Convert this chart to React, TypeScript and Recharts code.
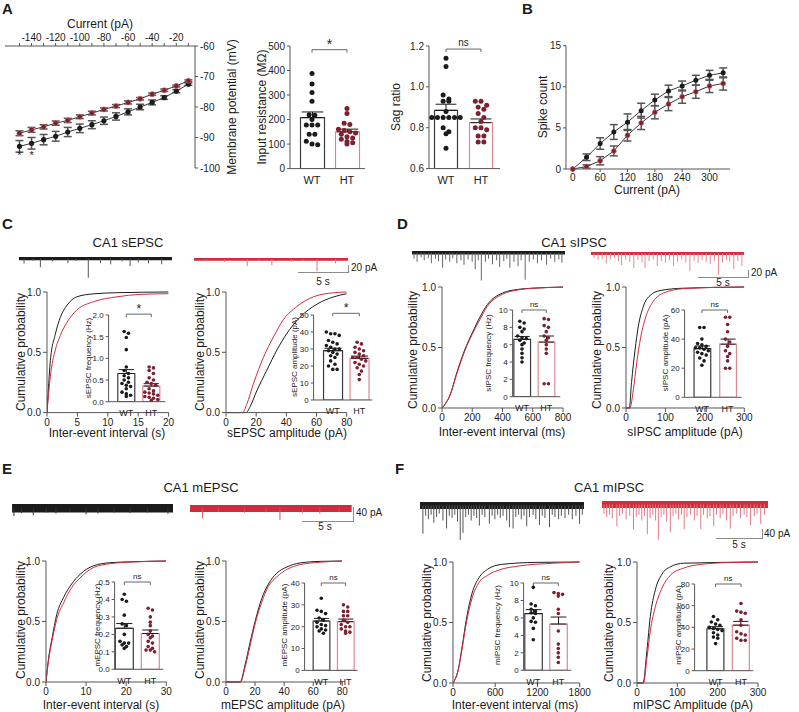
import React from 'react';
import {
  ComposedChart, Line, Bar, Scatter, XAxis, YAxis, ErrorBar, Cell,
  ReferenceLine, ReferenceDot, ReferenceArea,
} from 'recharts';

const FONT = '"Liberation Sans", Arial, Helvetica, sans-serif';
const INK = '#1b1b1b';
const AXIS = '#555';
const RED = '#d22b3c';
const MAROON = '#7d2030';
const HT_EDGE = '#dc8790';

type Pair = [number, number];

// ---------- A: current-voltage
const ivCurrent = [-150, -140, -130, -120, -110, -100, -90, -80, -70, -60, -50, -40, -30, -20, -10];
const ivWT = [-92.9, -91.9, -90.7, -89.6, -88.2, -87.0, -85.8, -84.5, -83.1, -81.6, -80.0, -78.5, -76.9, -74.8, -72.5];
const ivWTsem = [1.9, 1.9, 1.7, 1.6, 1.5, 1.4, 1.3, 1.2, 1.2, 1.0, 0.9, 0.8, 0.6, 0.5, 0.4];
const ivHT = [-88.6, -87.5, -86.5, -85.3, -84.4, -83.2, -82.0, -80.8, -79.7, -78.5, -77.3, -75.8, -74.5, -73.1, -71.4];
const ivHTsem = [0.8, 0.8, 0.7, 0.7, 0.7, 0.6, 0.6, 0.5, 0.5, 0.5, 0.4, 0.4, 0.4, 0.3, 0.3];
const ivStarCurrents = [-150, -140];
const ivYTicks = [-100, -90, -80, -70, -60];

// ---------- A: input resistance / sag ratio
const rinWT = [388, 345, 310, 275, 220, 218, 200, 178, 178, 178, 140, 140, 112, 100, 97];
const rinHT = [245, 225, 185, 180, 160, 155, 150, 145, 140, 130, 125, 120, 110, 105, 100];
const rinMean = [208, 150];
const rinSem = [23, 11];
const sagWT = [1.14, 1.10, 0.96, 0.94, 0.93, 0.93, 0.88, 0.85, 0.85, 0.85, 0.85, 0.85, 0.85, 0.80, 0.78, 0.77, 0.70];
const sagHT = [0.93, 0.93, 0.91, 0.90, 0.89, 0.87, 0.85, 0.83, 0.80, 0.80, 0.79, 0.76, 0.76, 0.73, 0.73];
const sagMean = [0.885, 0.825];
const sagSem = [0.03, 0.018];

// ---------- B: spike count
const bCurrent = [0, 30, 60, 90, 120, 150, 180, 210, 240, 270, 300, 330];
const bWT = [0, 1.43, 3.1, 4.5, 5.7, 7.1, 8.4, 9.5, 10.1, 10.8, 11.4, 11.7];
const bWTsem = [0, 0.4, 0.7, 0.9, 1.0, 0.9, 0.7, 0.7, 0.6, 0.6, 0.6, 0.6];
const bHT = [0, 0.3, 1.0, 2.2, 4.1, 5.6, 6.9, 7.9, 8.8, 9.4, 10.1, 10.4];
const bHTsem = [0, 0.2, 0.5, 0.6, 0.7, 0.8, 0.8, 0.8, 0.8, 0.8, 0.8, 0.8];

// ---------- C: sEPSC
const sEpscTraceWT: Pair[] = [[0.5, 15], [1.4, 6], [2.1, 26], [3.3, 8], [4.8, 14], [5.6, 7], [6.8, 58], [8.0, 14], [9.0, 17], [10.1, 8], [10.9, 22], [11.7, 12], [12.7, 15], [14.0, 17]];
const sEpscTraceHT: Pair[] = [[1.2, 6], [3.0, 8], [5.2, 20], [6.3, 5], [7.6, 17], [9.5, 7], [10.6, 5], [12.0, 36], [13.8, 12]];
const sEpscIeiWT: Pair[] = [[0, 0], [0.2, 0.17], [0.55, 0.43], [1.37, 0.65], [2.2, 0.79], [3.3, 0.89], [4.9, 0.96], [7.7, 0.985], [11.5, 0.994], [20, 1]];
const sEpscIeiHT: Pair[] = [[0, 0], [0.2, 0.12], [0.55, 0.3], [1.37, 0.52], [2.2, 0.64], [3.3, 0.75], [4.9, 0.85], [7.7, 0.92], [11.5, 0.96], [15.3, 0.98], [20, 0.986]];
const sEpscAmpWT: Pair[] = [[0, 0], [13.3, 0], [16, 0.05], [20.4, 0.18], [27, 0.35], [33.8, 0.52], [40, 0.65], [49, 0.79], [60.4, 0.9], [71.5, 0.96], [80, 0.986]];
const sEpscAmpHT: Pair[] = [[0, 0], [11, 0], [13.8, 0.07], [18.2, 0.24], [24.9, 0.46], [31.6, 0.63], [38, 0.77], [47, 0.88], [58, 0.96], [71.5, 0.994], [80, 1]];
const sEpscFreqWT = [1.62, 1.58, 1.48, 1.2, 0.8, 0.72, 0.65, 0.6, 0.55, 0.5, 0.45, 0.42, 0.38, 0.35, 0.3, 0.22, 0.18, 0.15, 0.12];
const sEpscFreqHT = [0.8, 0.78, 0.72, 0.65, 0.55, 0.5, 0.45, 0.42, 0.38, 0.3, 0.25, 0.22, 0.2, 0.18, 0.15, 0.12, 0.1, 0.08, 0.05, 0.03];
const sEpscFreqMean = [0.65, 0.36];
const sEpscFreqSem = [0.09, 0.055];
const sEpscAmpDotsWT = [40, 39, 39, 38, 35, 34, 33, 32, 31, 30, 30, 29, 28, 27, 26, 25, 23, 21, 20, 18, 18];
const sEpscAmpDotsHT = [34, 33, 31, 30, 29, 28, 27, 26, 25, 25, 24, 23, 22, 21, 20, 19, 17, 15, 12];
const sEpscAmpMean = [29, 24.5];
const sEpscAmpSem = [1.4, 1.3];

// ---------- D: sIPSC
const sIpscTraceWT: Pair[] = [[0.2, 20], [0.5, 30], [0.9, 15], [1.2, 25], [1.6, 18], [1.9, 35], [2.3, 20], [2.6, 28], [3.0, 50], [3.3, 22], [3.7, 30], [4.0, 18], [4.4, 35], [4.8, 25], [5.1, 40], [5.5, 22], [5.9, 30], [6.2, 55], [6.5, 25], [6.8, 92], [7.2, 30], [7.5, 20], [7.9, 38], [8.3, 25], [8.6, 47], [9.0, 28], [9.3, 20], [9.6, 50], [10.0, 30], [10.4, 45], [10.7, 25], [11.1, 90], [11.5, 30], [11.9, 22], [12.3, 35], [12.7, 25], [13.2, 40], [13.6, 20], [14.0, 30], [14.4, 22], [14.7, 33]];
const sIpscTraceHT: Pair[] = [[0.3, 15], [0.7, 22], [1.1, 18], [1.5, 33], [1.9, 20], [2.3, 15], [2.7, 25], [3.0, 38], [3.4, 20], [3.8, 28], [4.2, 48], [4.6, 22], [5.0, 30], [5.3, 48], [5.7, 25], [6.1, 20], [6.5, 42], [6.9, 25], [7.3, 30], [7.7, 22], [8.1, 42], [8.5, 28], [8.9, 20], [9.3, 30], [9.7, 58], [10.1, 25], [10.5, 32], [10.9, 22], [11.3, 28], [11.7, 35], [12.1, 25], [12.5, 72], [12.9, 30], [13.3, 22], [13.6, 28], [14.0, 52], [14.4, 25], [14.8, 42]];
const sIpscIeiWT: Pair[] = [[0, 0], [25, 0.04], [51, 0.1], [100, 0.3], [150, 0.48], [200, 0.62], [250, 0.75], [300, 0.855], [400, 0.95], [500, 0.98], [600, 0.99], [800, 1]];
const sIpscIeiHT: Pair[] = [[0, 0], [25, 0.04], [51, 0.1], [100, 0.29], [150, 0.47], [200, 0.61], [250, 0.73], [300, 0.84], [400, 0.94], [500, 0.975], [600, 0.99], [800, 0.998]];
const sIpscAmpWT: Pair[] = [[0, 0], [8.5, 0], [14, 0.21], [23, 0.48], [31, 0.67], [44, 0.84], [61, 0.93], [86, 0.97], [145, 0.99], [300, 1]];
const sIpscAmpHT: Pair[] = [[0, 0], [10, 0], [18.6, 0.15], [27, 0.37], [37, 0.58], [52, 0.77], [69, 0.88], [95, 0.95], [145, 0.986], [230, 0.997], [300, 1]];
const sIpscFreqWT = [8.7, 8.5, 8.0, 7.8, 7.5, 7.0, 6.8, 6.7, 6.5, 6.2, 6.0, 5.5, 5.0, 4.5, 4.0];
const sIpscFreqHT = [9.0, 8.9, 8.2, 8.0, 7.5, 7.0, 6.8, 6.5, 6.0, 5.5, 5.0, 1.5, 1.5];
const sIpscFreqMean = [6.6, 6.3];
const sIpscFreqSem = [0.35, 0.7];
const sIpscAmpDotsWT = [48, 48, 40, 37, 36, 35, 34, 34, 33, 32, 31, 30, 29, 27, 25, 22];
const sIpscAmpDotsHT = [55, 55, 50, 45, 40, 38, 35, 32, 30, 28, 25, 20, 20];
const sIpscAmpMean = [33.5, 36.5];
const sIpscAmpSem = [1.8, 3.5];

// ---------- E: mEPSC
const mEpscTraceWT: Pair[] = [[0.2, 22], [0.9, 14], [2.0, 20], [3.2, 12], [4.1, 15], [5.4, 10], [6.9, 17], [8.0, 15], [9.5, 12], [11.0, 14], [12.6, 12], [14.5, 16]];
const mEpscTraceHT: Pair[] = [[1.1, 28], [2.6, 10], [5.0, 12], [7.0, 11], [8.3, 32], [10.4, 12], [12.0, 14], [13.8, 10]];
const mEpscIeiWT: Pair[] = [[0, 0], [0.66, 0.2], [1.5, 0.36], [2.7, 0.56], [4.4, 0.7], [6.4, 0.81], [8.5, 0.89], [11.8, 0.96], [16, 0.986], [21.7, 0.994], [30, 1]];
const mEpscIeiHT: Pair[] = [[0, 0], [0.66, 0.185], [1.5, 0.34], [2.7, 0.52], [4.4, 0.655], [6.4, 0.78], [8.5, 0.86], [11.8, 0.945], [16, 0.978], [21.7, 0.992], [30, 1]];
const mEpscAmpWT: Pair[] = [[0, 0], [9.7, 0], [13.1, 0.14], [16.6, 0.33], [20, 0.5], [24.6, 0.69], [29.2, 0.81], [35, 0.9], [41.8, 0.95], [51, 0.984], [64.8, 0.997], [80, 1]];
const mEpscAmpHT: Pair[] = [[0, 0], [10, 0], [13.1, 0.12], [16.6, 0.3], [20, 0.48], [24.6, 0.66], [29.2, 0.79], [35, 0.87], [41.8, 0.93], [51, 0.97], [64.8, 0.99], [80, 1]];
const mEpscFreqWT = [0.43, 0.40, 0.39, 0.31, 0.26, 0.25, 0.20, 0.16, 0.15, 0.15, 0.14, 0.13, 0.12];
const mEpscFreqHT = [0.35, 0.34, 0.30, 0.27, 0.25, 0.22, 0.20, 0.19, 0.18, 0.16, 0.15, 0.13, 0.12, 0.11, 0.11, 0.10];
const mEpscFreqMean = [0.235, 0.205];
const mEpscFreqSem = [0.027, 0.02];
const mEpscAmpDotsWT = [33, 27.5, 27, 26, 24, 23, 22, 21, 20.5, 20, 19, 18.5, 18, 17];
const mEpscAmpDotsHT = [30, 29, 27, 27, 25, 25, 23, 22, 21, 20, 20, 19, 18, 17.5, 17];
const mEpscAmpMean = [22.6, 22.3];
const mEpscAmpSem = [1.2, 1.2];

// ---------- F: mIPSC
const mIpscTraceWT: Pair[] = [[0.3, 123], [0.6, 45], [0.9, 60], [1.2, 40], [1.5, 75], [1.8, 50], [2.1, 35], [2.5, 65], [2.9, 100], [3.2, 45], [3.5, 55], [3.8, 40], [4.1, 70], [4.4, 150], [4.7, 120], [5.0, 50], [5.3, 40], [5.6, 65], [5.9, 45], [6.2, 55], [6.5, 87], [6.8, 40], [7.1, 50], [7.6, 80], [7.9, 45], [8.2, 60], [8.5, 40], [8.8, 55], [9.1, 45], [9.5, 65], [9.8, 95], [10.2, 100], [10.5, 50], [10.8, 40], [11.1, 60], [11.4, 45], [11.7, 90], [12.0, 50], [12.4, 40], [12.7, 60], [13.1, 85], [13.4, 45], [13.7, 55], [14.2, 95], [14.5, 40], [14.8, 50], [15.2, 60], [15.5, 45], [15.9, 55], [16.3, 40], [16.7, 60], [17.1, 45], [17.5, 80], [17.8, 40]];
const mIpscTraceHT: Pair[] = [[0.2, 40], [0.5, 55], [0.8, 45], [1.1, 60], [1.6, 95], [1.9, 50], [2.2, 40], [2.6, 65], [3.0, 50], [3.4, 108], [3.7, 55], [4.0, 45], [4.3, 70], [4.6, 50], [4.9, 130], [5.2, 60], [5.5, 45], [5.8, 70], [6.1, 152], [6.4, 55], [6.7, 45], [7.0, 75], [7.4, 120], [7.7, 50], [8.0, 40], [8.3, 65], [8.6, 45], [8.9, 108], [9.2, 55], [9.6, 45], [10.0, 70], [10.3, 50], [10.7, 108], [11.0, 45], [11.4, 60], [11.7, 50], [12.1, 95], [12.4, 45], [12.8, 60], [13.1, 40], [13.5, 70], [13.9, 105], [14.2, 50], [14.6, 40], [15.0, 60], [15.4, 45], [15.7, 55], [16.1, 90], [16.5, 50], [16.8, 40], [17.2, 85], [17.6, 45]];
const mIpscIeiWT: Pair[] = [[0, 0], [30, 0.03], [74, 0.11], [123, 0.275], [197, 0.55], [270, 0.74], [369, 0.87], [492, 0.94], [689, 0.98], [1180, 0.997], [1800, 1]];
const mIpscIeiHT: Pair[] = [[0, 0], [30, 0.03], [74, 0.105], [123, 0.26], [197, 0.52], [270, 0.7], [369, 0.83], [492, 0.89], [689, 0.94], [935, 0.967], [1427, 0.99], [1800, 1]];
const mIpscAmpWT: Pair[] = [[0, 0], [15, 0], [24.8, 0.275], [33, 0.55], [45.5, 0.77], [62, 0.9], [82.6, 0.96], [116, 0.99], [300, 1]];
const mIpscAmpHT: Pair[] = [[0, 0], [16, 0], [24.8, 0.21], [33, 0.43], [45.5, 0.63], [62, 0.785], [82.6, 0.89], [116, 0.95], [157, 0.98], [240, 0.997], [300, 1]];
const mIpscFreqWT = [9.5, 7.6, 7.4, 7.0, 6.8, 6.5, 6.6, 6.0, 5.5, 5.6, 4.8, 3.5];
const mIpscFreqHT = [8.9, 8.8, 8.7, 8.5, 7.0, 6.5, 4.5, 3.0, 2.5, 2.0, 1.5, 0.9];
const mIpscFreqMean = [6.5, 5.3];
const mIpscFreqSem = [0.45, 0.8];
const mIpscAmpDotsWT = [50, 47, 45, 43, 42, 40, 39, 38, 37, 35, 33, 31, 30, 25];
const mIpscAmpDotsHT = [62, 55, 54, 53, 47, 42, 36, 34, 33, 30, 28, 28];
const mIpscAmpMean = [38.7, 42];
const mIpscAmpSem = [1.9, 3.5];

// ---------- helpers
const pts = (p: Pair[]) => p.map(([x, y]) => ({ x, y }));
const tickStyle = (fs: number) => ({ fontSize: fs, fill: INK, fontFamily: FONT });

const T = ({ x, y, s, size = 12, rot = 0, anchor = 'middle', bold = false }: any) => (
  <div
    style={{
      position: 'absolute', left: x, top: y, whiteSpace: 'nowrap', lineHeight: 1,
      fontSize: size, fontWeight: bold ? 700 : 400, color: INK, fontFamily: FONT,
      transform: `translate(${anchor === 'start' ? '0' : '-50%'}, -50%) rotate(${rot}deg)`,
    }}
  >
    {s}
  </div>
);

const ScaleBar = ({ x0, x1, y, top }: any) => (
  <>
    <div style={{ position: 'absolute', left: x0, top: y, width: x1 - x0, height: 0, borderTop: '1px solid #8c8c8c' }} />
    <div style={{ position: 'absolute', left: x1, top, width: 0, height: y - top + 1, borderLeft: '1px solid #8c8c8c' }} />
  </>
);

// dots of a group laid out in rows, the way Prism scatters them
function swarm(vals: number[], center: number, step: number, tol: number) {
  const sorted = [...vals].sort((a, b) => b - a);
  const out: { x: number; y: number }[] = [];
  let row: number[] = [];
  const flush = () => {
    row.forEach((v, j) => out.push({ x: center + (j - (row.length - 1) / 2) * step, y: v }));
    row = [];
  };
  for (const v of sorted) {
    if (row.length && row[0] - v > tol) flush();
    row.push(v);
  }
  flush();
  return out;
}

type BD = {
  ax: number; end: number; top: number; bot: number; c: [number, number]; bw: number; dot: number;
  dom: [number, number]; ticks: number[]; dp?: number; wt: number[]; ht: number[];
  mean: number[]; sem: number[]; sig: string; sigAt: number; fs: number;
};

const BarDots = (p: BD) => {
  const yW = p.fs * 2.2 + 8;
  const xH = p.fs + 8;
  const padT = 16;
  const padR = 4;
  const unit = p.c[1] - p.c[0];
  const xd: [number, number] = [1 - (p.c[0] - p.ax) / unit, 2 + (p.end - p.c[1]) / unit];
  const ppv = (p.bot - p.top) / (p.dom[1] - p.dom[0]);
  const step = (p.dot + 0.7) / unit;
  const tol = (p.dot * 0.95) / ppv;
  const rows = [
    { x: 1, v: p.mean[0], e: [0, p.sem[0]] },
    { x: 2, v: p.mean[1], e: [0, p.sem[1]] },
  ];
  const tk = 3 / ppv;
  const r = p.dot / 2;
  return (
    <div style={{ position: 'absolute', left: p.ax - yW, top: p.top - padT }}>
      <ComposedChart
        width={p.end - p.ax + yW + padR}
        height={p.bot - p.top + padT + xH}
        data={rows}
        margin={{ top: padT, right: padR, bottom: 0, left: 0 }}
      >
        <XAxis
          type="number" dataKey="x" domain={xd} allowDataOverflow ticks={[1, 2]} interval={0}
          tickFormatter={(v: number) => (v === 1 ? 'WT' : 'HT')} tickLine={false}
          axisLine={{ stroke: AXIS }} tick={tickStyle(p.fs + 1)} height={xH}
        />
        <XAxis xAxisId="dots" type="number" dataKey="x" domain={xd} allowDataOverflow hide />
        <YAxis
          type="number" domain={p.dom} allowDataOverflow ticks={p.ticks} interval={0}
          tickFormatter={(v: number) => v.toFixed(p.dp ?? 0)} width={yW} tickSize={3}
          axisLine={{ stroke: AXIS }} tickLine={{ stroke: AXIS }} tick={tickStyle(p.fs)}
        />
        <Bar dataKey="v" barSize={p.bw} fill="#fff" strokeWidth={1.2} isAnimationActive={false}>
          <Cell stroke="#3a3a3a" />
          <Cell stroke={HT_EDGE} />
          <ErrorBar dataKey="e" width={p.bw * 0.45} stroke={INK} strokeWidth={1} direction="y" />
        </Bar>
        <Scatter
          xAxisId="dots" data={swarm(p.wt, 1, step, tol)} dataKey="y" isAnimationActive={false}
          shape={(s: any) => <circle cx={s.cx} cy={s.cy} r={r} fill={INK} />}
        />
        <Scatter
          xAxisId="dots" data={swarm(p.ht, 2, step, tol)} dataKey="y" isAnimationActive={false}
          shape={(s: any) => <circle cx={s.cx} cy={s.cy} r={r} fill={MAROON} />}
        />
        <ReferenceLine segment={[{ x: 1, y: p.sigAt }, { x: 2, y: p.sigAt }]} stroke="#666" ifOverflow="visible" />
        <ReferenceLine segment={[{ x: 1, y: p.sigAt }, { x: 1, y: p.sigAt - tk }]} stroke="#666" ifOverflow="visible" />
        <ReferenceLine segment={[{ x: 2, y: p.sigAt }, { x: 2, y: p.sigAt - tk }]} stroke="#666" ifOverflow="visible" />
        <ReferenceDot
          x={1.5} y={p.sigAt} r={0} fill="none" stroke="none" ifOverflow="visible"
          label={{ value: p.sig, position: 'top', offset: p.sig === '*' ? 1 : 3, fontSize: p.sig === '*' ? p.fs + 4 : p.fs, fill: INK }}
        />
      </ComposedChart>
    </div>
  );
};

type CD = { ax: number; end: number; top: number; bot: number; dom: [number, number]; ticks: number[]; wt: Pair[]; ht: Pair[] };

const Cdf = (p: CD) => {
  const yW = 30;
  const xH = 20;
  const padT = 7;
  const padR = 14;
  return (
    <div style={{ position: 'absolute', left: p.ax - yW, top: p.top - padT }}>
      <ComposedChart
        width={p.end - p.ax + yW + padR}
        height={p.bot - p.top + padT + xH}
        margin={{ top: padT, right: padR, bottom: 0, left: 0 }}
      >
        <XAxis
          type="number" dataKey="x" domain={p.dom} allowDataOverflow ticks={p.ticks} interval={0}
          height={xH} tickSize={4} axisLine={{ stroke: AXIS }} tickLine={{ stroke: AXIS }} tick={tickStyle(10)}
        />
        <YAxis
          type="number" domain={[0, 1]} ticks={[0, 0.5, 1]} interval={0} tickFormatter={(v: number) => v.toFixed(1)}
          width={yW} tickSize={4} axisLine={{ stroke: AXIS }} tickLine={{ stroke: AXIS }} tick={tickStyle(10)}
        />
        <Line data={pts(p.wt)} dataKey="y" type="monotone" dot={false} stroke={INK} strokeWidth={1} isAnimationActive={false} />
        <Line data={pts(p.ht)} dataKey="y" type="monotone" dot={false} stroke={RED} strokeWidth={1} isAnimationActive={false} />
      </ComposedChart>
    </div>
  );
};

type TR = { x0: number; x1: number; base: number; dur: number; ppa: number; noise: number; ev: Pair[]; color: string; spike: string };

const Trace = (p: TR) => {
  const maxA = Math.max(...p.ev.map((e) => e[1]));
  const yMax = p.noise + 2 / p.ppa;
  const yMin = -(maxA + 2 / p.ppa);
  const rows = p.ev.map(([t, a]) => ({ t, v: -a }));
  return (
    <div style={{ position: 'absolute', left: p.x0, top: p.base - yMax * p.ppa }}>
      <ComposedChart width={p.x1 - p.x0} height={(yMax - yMin) * p.ppa} data={rows} margin={{ top: 0, right: 0, bottom: 0, left: 0 }}>
        <XAxis type="number" dataKey="t" domain={[0, p.dur]} allowDataOverflow hide />
        <YAxis type="number" domain={[yMin, yMax]} allowDataOverflow hide />
        <Bar dataKey="v" barSize={1} fill={p.spike} isAnimationActive={false} />
        <ReferenceArea y1={-p.noise} y2={p.noise} fill={p.color} fillOpacity={1} stroke="none" ifOverflow="visible" />
      </ComposedChart>
    </div>
  );
};

const IVChart = () => {
  const wt = ivCurrent.map((x, i) => ({ x, y: ivWT[i], e: ivWTsem[i] }));
  const ht = ivCurrent.map((x, i) => ({ x, y: ivHT[i], e: ivHTsem[i] }));
  const stars = ivStarCurrents.map((x) => ({ x, y: -95.6 }));
  return (
    <div style={{ position: 'absolute', left: 3, top: 24 }}>
      <ComposedChart width={222} height={154} margin={{ top: 2, right: 0, bottom: 10, left: 2 }}>
        <XAxis
          type="number" dataKey="x" orientation="top" domain={[-162, -4.5]} allowDataOverflow ticks={ivCurrent}
          interval={0} tickFormatter={(v: number) => (v % 20 === 0 ? String(v) : '')} height={20} tickSize={3}
          axisLine={{ stroke: AXIS }} tickLine={{ stroke: AXIS }} tick={tickStyle(10)}
        />
        <YAxis
          type="number" orientation="right" domain={[-100, -60]} allowDataOverflow ticks={ivYTicks} interval={0}
          width={30} tickSize={3} axisLine={{ stroke: AXIS }} tickLine={{ stroke: AXIS }} tick={tickStyle(10)}
        />
        <Line
          data={wt} dataKey="y" stroke="#3a3a3a" strokeWidth={1} isAnimationActive={false}
          dot={(d: any) => <circle key={`w${d.index}`} cx={d.cx} cy={d.cy} r={2.6} fill={INK} />}
        >
          <ErrorBar dataKey="e" width={4} stroke="#555" direction="y" />
        </Line>
        <Line
          data={ht} dataKey="y" stroke="#3a3a3a" strokeWidth={1} isAnimationActive={false}
          dot={(d: any) => <circle key={`h${d.index}`} cx={d.cx} cy={d.cy} r={2.6} fill={MAROON} stroke="#c77" strokeWidth={0.6} />}
        >
          <ErrorBar dataKey="e" width={4} stroke="#555" direction="y" />
        </Line>
        <Scatter
          data={stars} dataKey="y" isAnimationActive={false}
          shape={(s: any) => <text x={s.cx} y={s.cy + 4} textAnchor="middle" fontSize={11} fill={INK}>*</text>}
        />
      </ComposedChart>
    </div>
  );
};

const SpikeChart = () => {
  const wt = bCurrent.map((x, i) => ({ x, y: bWT[i], e: bWTsem[i] }));
  const ht = bCurrent.map((x, i) => ({ x, y: bHT[i], e: bHTsem[i] }));
  return (
    <div style={{ position: 'absolute', left: 538, top: 38 }}>
      <ComposedChart width={204} height={149} margin={{ top: 7.7, right: 12, bottom: 0, left: 0 }}>
        <XAxis
          type="number" dataKey="x" domain={[-15, 345]} allowDataOverflow ticks={[0, 60, 120, 180, 240, 300]}
          interval={0} height={18} tickSize={3} axisLine={{ stroke: AXIS }} tickLine={{ stroke: AXIS }} tick={tickStyle(10)}
        />
        <YAxis
          type="number" domain={[0, 15]} ticks={[0, 5, 10, 15]} interval={0} width={28} tickSize={3}
          axisLine={{ stroke: AXIS }} tickLine={{ stroke: AXIS }} tick={tickStyle(10)}
        />
        <Line
          data={wt} dataKey="y" stroke="#3a3a3a" strokeWidth={1} isAnimationActive={false}
          dot={(d: any) => <circle key={`bw${d.index}`} cx={d.cx} cy={d.cy} r={2.5} fill={INK} />}
        >
          <ErrorBar dataKey="e" width={4} stroke="#555" direction="y" />
        </Line>
        <Line
          data={ht} dataKey="y" stroke="#3a3a3a" strokeWidth={1} isAnimationActive={false}
          dot={(d: any) => <circle key={`bh${d.index}`} cx={d.cx} cy={d.cy} r={2.5} fill={MAROON} stroke="#c77" strokeWidth={0.6} />}
        >
          <ErrorBar dataKey="e" width={4} stroke="#555" direction="y" />
        </Line>
      </ComposedChart>
    </div>
  );
};

const App = () => (
  <div
    style={{
      position: 'absolute', left: 0, top: 0, width: 799, height: 712, background: '#fff',
      overflow: 'hidden', fontFamily: FONT, color: INK,
    }}
  >
    {/* ---------- A ---------- */}
    <T x={2} y={8} s="A" size={15} bold anchor="start" />
    <T x={100} y={24} s="Current (pA)" />
    <IVChart />
    <T x={232} y={107} s="Membrane potential (mV)" rot={-90} />
    <T x={262} y={107} s="Input resistance (MΩ)" rot={-90} />
    <BarDots
      ax={290} end={365} top={45.7} bot={168.3} c={[312, 347]} bw={24} dot={5}
      dom={[0, 500]} ticks={[0, 100, 200, 300, 400, 500]} wt={rinWT} ht={rinHT}
      mean={rinMean} sem={rinSem} sig="*" sigAt={485} fs={10}
    />
    <T x={396} y={107} s="Sag ratio" rot={-90} />
    <BarDots
      ax={429} end={500} top={45.7} bot={168.3} c={[446, 481]} bw={23} dot={5}
      dom={[0.6, 1.2]} ticks={[0.6, 0.8, 1.0, 1.2]} dp={1} wt={sagWT} ht={sagHT}
      mean={sagMean} sem={sagSem} sig="ns" sigAt={1.185} fs={10}
    />

    {/* ---------- B ---------- */}
    <T x={522} y={8} s="B" size={15} bold anchor="start" />
    <T x={543} y={107} s="Spike count" rot={-90} />
    <SpikeChart />
    <T x={647} y={190} s="Current (pA)" />

    {/* ---------- C ---------- */}
    <T x={2} y={223} s="C" size={15} bold anchor="start" />
    <T x={128} y={242} s="CA1 sEPSC" size={13} />
    <Trace x0={19} x1={172} base={259} dur={15} ppa={0.33} noise={5} ev={sEpscTraceWT} color={INK} spike="#555" />
    <Trace x0={194} x1={348} base={259} dur={15} ppa={0.33} noise={4} ev={sEpscTraceHT} color={RED} spike="#e07580" />
    <ScaleBar x0={298} x1={348} y={272} top={265} />
    <T x={351} y={268} s="20 pA" size={10} anchor="start" />
    <T x={323} y={282} s="5 s" size={10} />
    <Cdf ax={46.7} end={168.3} top={291.7} bot={412.3} dom={[0, 20]} ticks={[0, 5, 10, 15, 20]} wt={sEpscIeiWT} ht={sEpscIeiHT} />
    <Cdf ax={226} end={346.7} top={291.7} bot={412.3} dom={[0, 80]} ticks={[0, 20, 40, 60, 80]} wt={sEpscAmpWT} ht={sEpscAmpHT} />
    <T x={21} y={352} s="Cumulative probability" rot={-90} />
    <T x={200} y={352} s="Cumulative probability" rot={-90} />
    <T x={107} y={433} s="Inter-event interval (s)" />
    <T x={287} y={433} s="sEPSC amplitude (pA)" />
    <T x={89.3} y={358} s="sEPSC frequency (Hz)" size={8} rot={-90} />
    <BarDots
      ax={108.3} end={165} top={315} bot={401.7} c={[126, 151]} bw={17} dot={3.6}
      dom={[0, 2]} ticks={[0, 0.5, 1, 1.5, 2]} dp={1} wt={sEpscFreqWT} ht={sEpscFreqHT}
      mean={sEpscFreqMean} sem={sEpscFreqSem} sig="*" sigAt={2.02} fs={8}
    />
    <T x={295} y={357} s="sEPSC amplitude (pA)" size={8} rot={-90} />
    <BarDots
      ax={313.3} end={372} top={315} bot={400} c={[332.5, 359]} bw={19} dot={3.6}
      dom={[0, 50]} ticks={[0, 10, 20, 30, 40, 50]} wt={sEpscAmpDotsWT} ht={sEpscAmpDotsHT}
      mean={sEpscAmpMean} sem={sEpscAmpSem} sig="*" sigAt={51} fs={8}
    />

    {/* ---------- D ---------- */}
    <T x={397} y={223} s="D" size={15} bold anchor="start" />
    <T x={574} y={242} s="CA1 sIPSC" size={13} />
    <Trace x0={412} x1={565} base={253} dur={15} ppa={0.3} noise={6} ev={sIpscTraceWT} color={INK} spike="#666" />
    <Trace x0={591} x1={744} base={253} dur={15} ppa={0.3} noise={5} ev={sIpscTraceHT} color={RED} spike="#e58a94" />
    <ScaleBar x0={698} x1={748} y={276.7} top={270} />
    <T x={751} y={273} s="20 pA" size={10} anchor="start" />
    <T x={723} y={283} s="5 s" size={10} />
    <Cdf ax={441.7} end={562.7} top={287.3} bot={408.3} dom={[0, 800]} ticks={[0, 200, 400, 600, 800]} wt={sIpscIeiWT} ht={sIpscIeiHT} />
    <Cdf ax={626} end={744.3} top={287.3} bot={408.3} dom={[0, 300]} ticks={[0, 100, 200, 300]} wt={sIpscAmpWT} ht={sIpscAmpHT} />
    <T x={413.3} y={350} s="Cumulative probability" rot={-90} />
    <T x={596.7} y={350} s="Cumulative probability" rot={-90} />
    <T x={502} y={432} s="Inter-event interval (ms)" />
    <T x={685} y={432} s="sIPSC amplitude (pA)" />
    <T x={489.3} y={353} s="sIPSC frequency (Hz)" size={8} rot={-90} />
    <BarDots
      ax={512.3} end={560} top={310} bot={396.7} c={[521.7, 546]} bw={16.7} dot={3.6}
      dom={[0, 10]} ticks={[0, 2, 4, 6, 8, 10]} wt={sIpscFreqWT} ht={sIpscFreqHT}
      mean={sIpscFreqMean} sem={sIpscFreqSem} sig="ns" sigAt={10} fs={8}
    />
    <T x={666} y={353} s="sIPSC amplitude (pA)" size={8} rot={-90} />
    <BarDots
      ax={685} end={742} top={310} bot={397.3} c={[702.3, 728]} bw={16.7} dot={3.6}
      dom={[0, 60]} ticks={[0, 20, 40, 60]} wt={sIpscAmpDotsWT} ht={sIpscAmpDotsHT}
      mean={sIpscAmpMean} sem={sIpscAmpSem} sig="ns" sigAt={60} fs={8}
    />

    {/* ---------- E ---------- */}
    <T x={2} y={468} s="E" size={15} bold anchor="start" />
    <T x={201} y={487} s="CA1 mEPSC" size={13} />
    <Trace x0={11.7} x1={173.3} base={508} dur={15} ppa={0.35} noise={12} ev={mEpscTraceWT} color={INK} spike="#333" />
    <Trace x0={190} x1={351.7} base={508} dur={15} ppa={0.35} noise={10} ev={mEpscTraceHT} color={RED} spike="#d8505e" />
    <ScaleBar x0={301.7} x1={352.7} y={520.7} top={506.7} />
    <T x={356} y={513} s="40 pA" size={10} anchor="start" />
    <T x={325} y={527} s="5 s" size={10} />
    <Cdf ax={45.7} end={166} top={561} bot={682} dom={[0, 30]} ticks={[0, 10, 20, 30]} wt={mEpscIeiWT} ht={mEpscIeiHT} />
    <Cdf ax={226} end={342.3} top={561} bot={682} dom={[0, 80]} ticks={[0, 20, 40, 60, 80]} wt={mEpscAmpWT} ht={mEpscAmpHT} />
    <T x={21} y={620} s="Cumulative probability" rot={-90} />
    <T x={200} y={620} s="Cumulative probability" rot={-90} />
    <T x={101} y={705} s="Inter-event interval (s)" />
    <T x={283} y={705} s="mEPSC amplitude (pA)" />
    <T x={98.3} y={625} s="mEPSC frequency (Hz)" size={8} rot={-90} />
    <BarDots
      ax={114.3} end={163} top={581.7} bot={669} c={[124, 150]} bw={18} dot={3.6}
      dom={[0, 0.5]} ticks={[0, 0.1, 0.2, 0.3, 0.4, 0.5]} dp={1} wt={mEpscFreqWT} ht={mEpscFreqHT}
      mean={mEpscFreqMean} sem={mEpscFreqSem} sig="ns" sigAt={0.5} fs={8}
    />
    <T x={285} y={625} s="mEPSC amplitude (pA)" size={8} rot={-90} />
    <BarDots
      ax={305} end={358} top={583.3} bot={670.7} c={[321.7, 346]} bw={16.7} dot={3.6}
      dom={[0, 40]} ticks={[0, 10, 20, 30, 40]} wt={mEpscAmpDotsWT} ht={mEpscAmpDotsHT}
      mean={mEpscAmpMean} sem={mEpscAmpSem} sig="ns" sigAt={40} fs={8}
    />

    {/* ---------- F ---------- */}
    <T x={395} y={468} s="F" size={15} bold anchor="start" />
    <T x={609} y={487} s="CA1 mIPSC" size={13} />
    <Trace x0={420} x1={584} base={505} dur={18} ppa={0.23} noise={15} ev={mIpscTraceWT} color={INK} spike="#555" />
    <Trace x0={602} x1={768} base={504} dur={18} ppa={0.23} noise={15} ev={mIpscTraceHT} color={RED} spike="#e07a86" />
    <ScaleBar x0={716} x1={761.7} y={538.3} top={529} />
    <T x={764} y={534} s="40 pA" size={10} anchor="start" />
    <T x={739} y={545} s="5 s" size={10} />
    <Cdf ax={453.3} end={580} top={562} bot={683} dom={[0, 1800]} ticks={[0, 600, 1200, 1800]} wt={mIpscIeiWT} ht={mIpscIeiHT} />
    <Cdf ax={636.7} end={757.7} top={562} bot={683} dom={[0, 300]} ticks={[0, 100, 200, 300]} wt={mIpscAmpWT} ht={mIpscAmpHT} />
    <T x={426.7} y={623} s="Cumulative probability" rot={-90} />
    <T x={609.3} y={623} s="Cumulative probability" rot={-90} />
    <T x={515} y={705} s="Inter-event interval (ms)" />
    <T x={693} y={705} s="mIPSC Amplitude (pA)" />
    <T x={498.3} y={625} s="mIPSC frequency (Hz)" size={8} rot={-90} />
    <BarDots
      ax={523.3} end={571} top={582.7} bot={670} c={[533, 558]} bw={17.5} dot={3.6}
      dom={[0, 10]} ticks={[0, 2, 4, 6, 8, 10]} wt={mIpscFreqWT} ht={mIpscFreqHT}
      mean={mIpscFreqMean} sem={mIpscFreqSem} sig="ns" sigAt={10} fs={8}
    />
    <T x={679.3} y={625} s="mIPSC amplitude (pA)" size={8} rot={-90} />
    <BarDots
      ax={694.3} end={753} top={584} bot={670.7} c={[715.3, 740.7]} bw={17} dot={3.6}
      dom={[0, 80]} ticks={[0, 20, 40, 60, 80]} wt={mIpscAmpDotsWT} ht={mIpscAmpDotsHT}
      mean={mIpscAmpMean} sem={mIpscAmpSem} sig="ns" sigAt={80} fs={8}
    />
  </div>
);

export default App;
